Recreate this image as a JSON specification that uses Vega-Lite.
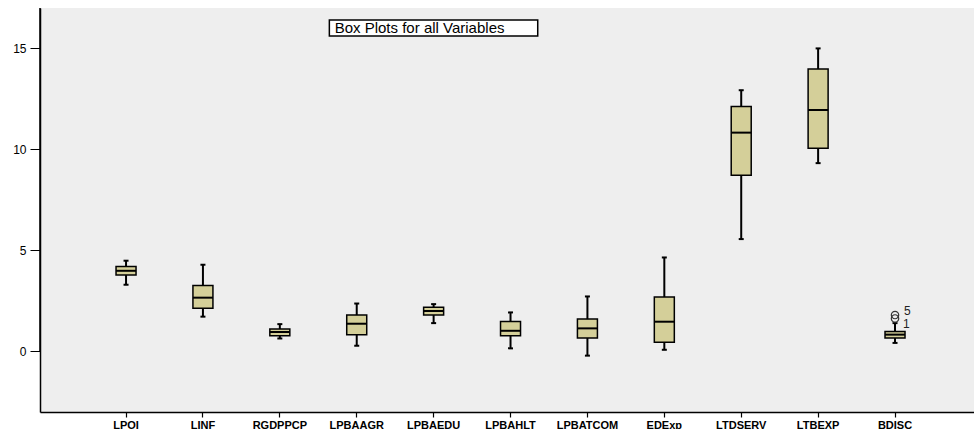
{
  "$schema": "https://vega.github.io/schema/vega-lite/v6.json",
  "width": 934,
  "height": 404,
  "autosize": {"type": "none"},
  "padding": {"left": 40, "top": 8, "right": 0, "bottom": 17},
  "background": "white",
  "config": {
    "view": {"fill": "#EEEEEE", "stroke": null},
    "font": "Liberation Sans",
    "axisX": {"domainColor": "black", "domainWidth": 1.5, "tickColor": "black", "tickSize": 5, "tickWidth": 1.2, "labelFont": "Liberation Sans", "labelFontWeight": "bold", "labelFontSize": 11, "labelColor": "black", "labelPadding": 2, "labelAngle": 0, "title": null, "grid": false},
    "axisY": {"domainColor": "black", "domainWidth": 1.5, "tickColor": "black", "tickSize": 10, "tickWidth": 1, "labelFont": "Liberation Sans", "labelFontSize": 12, "labelColor": "black", "labelPadding": 4, "title": null, "grid": false}
  },
  "datasets": {
    "boxes": [
      {"var": "LPOI", "lower": 3.30, "q1": 3.78, "median": 3.99, "q3": 4.20, "upper": 4.49},
      {"var": "LINF", "lower": 1.72, "q1": 2.13, "median": 2.66, "q3": 3.26, "upper": 4.29},
      {"var": "RGDPPCP", "lower": 0.64, "q1": 0.78, "median": 0.96, "q3": 1.11, "upper": 1.35},
      {"var": "LPBAAGR", "lower": 0.28, "q1": 0.83, "median": 1.37, "q3": 1.80, "upper": 2.37},
      {"var": "LPBAEDU", "lower": 1.40, "q1": 1.80, "median": 2.00, "q3": 2.18, "upper": 2.34},
      {"var": "LPBAHLT", "lower": 0.15, "q1": 0.78, "median": 1.02, "q3": 1.48, "upper": 1.93},
      {"var": "LPBATCOM", "lower": -0.21, "q1": 0.66, "median": 1.14, "q3": 1.60, "upper": 2.72},
      {"var": "EDExp", "lower": 0.08, "q1": 0.45, "median": 1.47, "q3": 2.69, "upper": 4.65},
      {"var": "LTDSERV", "lower": 5.56, "q1": 8.72, "median": 10.83, "q3": 12.12, "upper": 12.93},
      {"var": "LTBEXP", "lower": 9.32, "q1": 10.06, "median": 11.95, "q3": 13.98, "upper": 15.0},
      {"var": "BDISC", "lower": 0.42, "q1": 0.66, "median": 0.83, "q3": 0.99, "upper": 1.40}
    ],
    "outliers": [
      {"var": "BDISC", "value": 1.80, "case": "5"},
      {"var": "BDISC", "value": 1.63, "case": "1"}
    ],
    "note": [
      {"label": "Box Plots for all Variables"}
    ]
  },
  "resolve": {"scale": {"x": "independent"}},
  "layer": [
    {
      "encoding": {
        "x": {
          "field": "var",
          "type": "nominal",
          "sort": null,
          "scale": {
            "domain": ["LPOI", "LINF", "RGDPPCP", "LPBAAGR", "LPBAEDU", "LPBAHLT", "LPBATCOM", "EDExp", "LTDSERV", "LTBEXP", "BDISC"],
            "paddingInner": 0,
            "paddingOuter": 0.573,
            "align": 0.54
          },
          "axis": {"orient": "bottom"}
        }
      },
      "layer": [
        {
          "data": {"name": "boxes"},
          "mark": {"type": "rule", "color": "black", "strokeWidth": 2},
          "encoding": {
            "y": {"field": "lower", "type": "quantitative", "scale": {"domain": [-3, 17], "nice": false, "zero": false}, "axis": {"values": [0, 5, 10, 15]}},
            "y2": {"field": "upper"}
          }
        },
        {
          "data": {"name": "boxes"},
          "mark": {"type": "bar", "size": 20, "fill": "#D4CF99", "stroke": "black", "strokeWidth": 1.5},
          "encoding": {
            "y": {"field": "q1", "type": "quantitative"},
            "y2": {"field": "q3"}
          }
        },
        {
          "data": {"name": "boxes"},
          "mark": {"type": "tick", "size": 20, "thickness": 2, "color": "black", "opacity": 1},
          "encoding": {"y": {"field": "median", "type": "quantitative"}}
        },
        {
          "data": {"name": "boxes"},
          "mark": {"type": "tick", "size": 5, "thickness": 2, "color": "black", "opacity": 1},
          "encoding": {"y": {"field": "upper", "type": "quantitative"}}
        },
        {
          "data": {"name": "boxes"},
          "mark": {"type": "tick", "size": 5, "thickness": 2, "color": "black", "opacity": 1},
          "encoding": {"y": {"field": "lower", "type": "quantitative"}}
        },
        {
          "data": {"name": "outliers"},
          "mark": {"type": "point", "shape": "circle", "filled": false, "stroke": "#333333", "strokeWidth": 1.2, "size": 55, "opacity": 1},
          "encoding": {"y": {"field": "value", "type": "quantitative"}}
        },
        {
          "data": {"name": "outliers"},
          "transform": [{"filter": "datum.case === '5'"}],
          "mark": {"type": "text", "align": "left", "baseline": "middle", "dx": 9, "dy": -4, "fontSize": 12, "color": "#222222"},
          "encoding": {"y": {"field": "value", "type": "quantitative"}, "text": {"field": "case"}}
        },
        {
          "data": {"name": "outliers"},
          "transform": [{"filter": "datum.case === '1'"}],
          "mark": {"type": "text", "align": "left", "baseline": "middle", "dx": 8, "dy": 6, "fontSize": 12, "color": "#222222"},
          "encoding": {"y": {"field": "value", "type": "quantitative"}, "text": {"field": "case"}}
        },
        {
          "data": {"name": "note"},
          "mark": {"type": "rule", "color": "black", "strokeWidth": 1.5},
          "encoding": {"y": {"datum": 17, "type": "quantitative"}}
        }
      ]
    },
    {
      "data": {"name": "note"},
      "layer": [
        {
          "mark": {"type": "rect", "fill": "white", "stroke": "black", "strokeWidth": 1.5},
          "encoding": {
            "x": {"datum": 0.3098, "type": "quantitative", "scale": {"domain": [0, 1], "nice": false, "zero": false}, "axis": null},
            "x2": {"datum": 0.5329},
            "y": {"datum": 16.40, "type": "quantitative"},
            "y2": {"datum": 15.61}
          }
        },
        {
          "mark": {"type": "text", "align": "left", "baseline": "middle", "fontSize": 15, "color": "black", "font": "Liberation Sans"},
          "encoding": {
            "x": {"datum": 0.3155, "type": "quantitative", "scale": {"domain": [0, 1], "nice": false, "zero": false}, "axis": null},
            "y": {"datum": 16.0, "type": "quantitative"},
            "text": {"field": "label"}
          }
        }
      ]
    }
  ]
}
